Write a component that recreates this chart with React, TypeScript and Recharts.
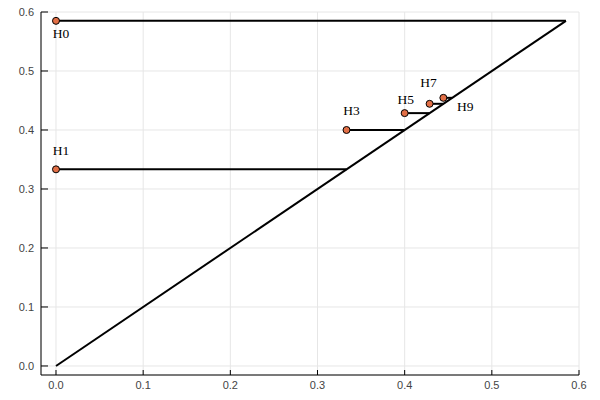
import React from 'react';
import { ComposedChart, Line, Scatter, XAxis, YAxis, CartesianGrid } from 'recharts';

const hNames = ['H0', 'H1', 'H3', 'H5', 'H7', 'H9'];
const hX = [0, 0, 0.3333, 0.4, 0.4286, 0.4444];
const hY = [0.585, 0.3333, 0.4, 0.4286, 0.4444, 0.4545];
const diagonalEnds = [0, 0.585];
const xTicks = [0, 0.1, 0.2, 0.3, 0.4, 0.5, 0.6];
const yTicks = [0, 0.1, 0.2, 0.3, 0.4, 0.5, 0.6];

// label offsets in px (style only)
const labelOffsets: Record<string, [number, number]> = {
  H0: [5, 13],
  H1: [5, -19],
  H3: [5, -19],
  H5: [1, -14],
  H7: [-1, -21],
  H9: [22, 9],
};

const points = hNames.map((n, i) => ({ name: n, x: hX[i], y: hY[i] }));
const diagonal = diagonalEnds.map((v) => ({ x: v, y: v }));
const segments = hNames.map((n, i) => [
  { x: hX[i], y: hY[i] },
  { x: hY[i], y: hY[i] },
]);

const fmt = (v: number) => v.toFixed(1);

const XTick = (props: any) => {
  const { x, y, payload } = props;
  return (
    <g>
      <line x1={x} x2={x} y1={y} y2={y - 5} stroke="#000" strokeWidth={1} />
      <text x={x} y={y + 10} textAnchor="middle" dominantBaseline="central" fontSize={11} fill="#444" fontFamily="Liberation Sans, Arial, sans-serif">
        {fmt(payload.value)}
      </text>
    </g>
  );
};

const YTick = (props: any) => {
  const { x, y, payload } = props;
  return (
    <g>
      <line x1={x} x2={x + 7} y1={y} y2={y} stroke="#000" strokeWidth={1} />
      <text x={x - 7} y={y} textAnchor="end" dominantBaseline="central" fontSize={11} fill="#444" fontFamily="Liberation Sans, Arial, sans-serif">
        {fmt(payload.value)}
      </text>
    </g>
  );
};

const PointShape = (props: any) => {
  const { cx, cy, payload } = props;
  const off = labelOffsets[payload.name] || [0, 0];
  return (
    <g>
      <circle cx={cx} cy={cy} r={3.5} fill="#E26F46" stroke="#000" strokeWidth={1} />
      <text x={cx + off[0]} y={cy + off[1]} textAnchor="middle" dominantBaseline="central" fontSize={13.5} fill="#000" fontFamily="Liberation Serif, Times New Roman, serif">
        {payload.name}
      </text>
    </g>
  );
};

export default function App() {
  return (
    <div style={{ position: 'absolute', left: 0, top: 0, background: '#fff' }}>
      <ComposedChart width={600} height={400} margin={{ top: 12, right: 21, bottom: 24, left: 40 }}>
        <CartesianGrid stroke="#e6e6e6" strokeWidth={1} />
        <XAxis
          type="number"
          dataKey="x"
          domain={[-0.0172, 0.6]}
          ticks={xTicks}
          height={1}
          tickSize={0}
          tickMargin={0}
          axisLine={{ stroke: '#000', strokeWidth: 1 }}
          tickLine={false}
          tick={<XTick />}
          allowDataOverflow
          interval={0}
        />
        <YAxis
          type="number"
          dataKey="y"
          domain={[-0.0153, 0.6]}
          ticks={yTicks}
          width={1}
          tickSize={0}
          tickMargin={0}
          axisLine={{ stroke: '#000', strokeWidth: 1 }}
          tickLine={false}
          tick={<YTick />}
          allowDataOverflow
          interval={0}
        />
        <Line data={diagonal} dataKey="y" stroke="#000" strokeWidth={2} dot={false} isAnimationActive={false} type="linear" />
        {segments.map((seg, i) => (
          <Line key={i} data={seg} dataKey="y" stroke="#000" strokeWidth={2} dot={false} isAnimationActive={false} type="linear" />
        ))}
        <Scatter data={points} dataKey="y" shape={<PointShape />} isAnimationActive={false} />
      </ComposedChart>
    </div>
  );
}
